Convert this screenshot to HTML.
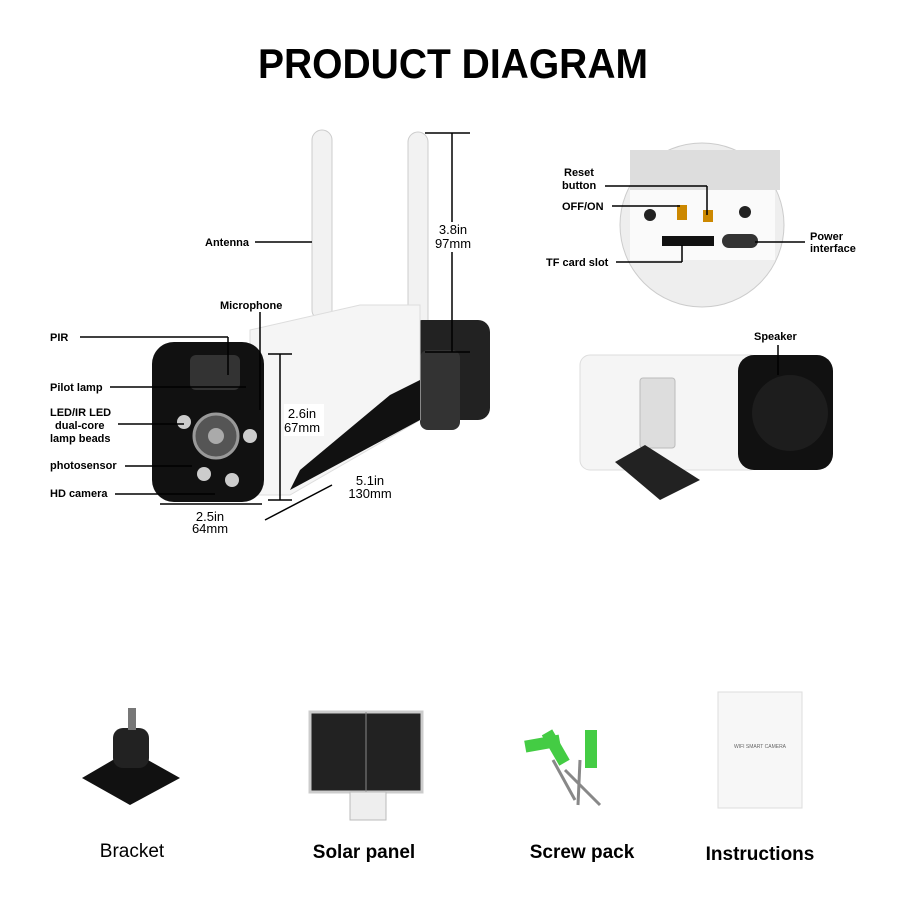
<!DOCTYPE html>
<html><head><meta charset="utf-8"><style>
body{margin:0;background:#fff;width:900px;height:900px;overflow:hidden}
svg{display:block}
text{font-family:"Liberation Sans",sans-serif}
</style></head><body>
<svg width="900" height="900" viewBox="0 0 900 900" xmlns="http://www.w3.org/2000/svg">
<text x="258" y="78" font-size="42" font-weight="bold" textLength="390" lengthAdjust="spacingAndGlyphs" fill="#000">PRODUCT DIAGRAM</text>

<!-- antennas -->
<rect x="312" y="130" width="20" height="190" rx="10" fill="#f2f2f2" stroke="#ccc"/>
<rect x="408" y="132" width="20" height="215" rx="10" fill="#f2f2f2" stroke="#ccc"/>
<!-- mount -->
<rect x="410" y="320" width="80" height="100" rx="12" fill="#222"/>
<rect x="420" y="350" width="40" height="80" rx="8" fill="#333"/>
<!-- body -->
<path d="M250 330 L360 305 L420 305 L420 420 L290 495 L250 495 Z" fill="#f5f5f5" stroke="#ddd"/>
<path d="M290 490 L420 420 L420 380 L390 395 L300 470 Z" fill="#111"/>
<!-- front -->
<rect x="152" y="342" width="112" height="160" rx="22" fill="#111"/>
<rect x="190" y="355" width="50" height="35" rx="6" fill="#333"/>
<circle cx="216" cy="436" r="22" fill="#555" stroke="#999" stroke-width="3"/>
<circle cx="216" cy="436" r="8" fill="#aaa"/>
<circle cx="184" cy="422" r="7" fill="#ccc"/><circle cx="250" cy="436" r="7" fill="#ccc"/>
<circle cx="204" cy="474" r="7" fill="#ccc"/><circle cx="232" cy="480" r="7" fill="#ccc"/>

<g stroke="#000" stroke-width="1.5" fill="none">
<line x1="255" y1="242" x2="312" y2="242"/>
<line x1="80" y1="337" x2="228" y2="337"/><line x1="228" y1="337" x2="228" y2="375"/>
<line x1="110" y1="387" x2="246" y2="387"/><line x1="260" y1="312" x2="260" y2="410"/>
<line x1="118" y1="424" x2="184" y2="424"/>
<line x1="125" y1="466" x2="192" y2="466"/>
<line x1="115" y1="494" x2="215" y2="494"/>
<line x1="425" y1="133" x2="470" y2="133"/><line x1="452" y1="133" x2="452" y2="352"/><line x1="425" y1="352" x2="470" y2="352"/>
<line x1="268" y1="354" x2="292" y2="354"/><line x1="280" y1="354" x2="280" y2="500"/><line x1="268" y1="500" x2="292" y2="500"/>
<line x1="160" y1="504" x2="262" y2="504"/>
<line x1="265" y1="520" x2="332" y2="485"/>
</g>
<rect x="432" y="222" width="42" height="30" fill="#fff"/>
<rect x="284" y="404" width="40" height="32" fill="#fff"/>
<g font-size="11" font-weight="bold">
<text x="205" y="246">Antenna</text>
<text x="220" y="309">Microphone</text>
<text x="50" y="341">PIR</text>
<text x="50" y="391">Pilot lamp</text>
<text x="50" y="416">LED/IR LED</text><text x="55" y="429">dual-core</text><text x="50" y="442">lamp beads</text>
<text x="50" y="469">photosensor</text>
<text x="50" y="497">HD camera</text>
</g>
<g font-size="13" text-anchor="middle">
<text x="453" y="234">3.8in</text><text x="453" y="248">97mm</text>
<text x="302" y="418">2.6in</text><text x="302" y="432">67mm</text>
<text x="370" y="485">5.1in</text><text x="370" y="498">130mm</text>
<text x="210" y="521">2.5in</text><text x="210" y="533">64mm</text>
</g>

<!-- circle inset -->
<circle cx="702" cy="225" r="82" fill="#eee" stroke="#ccc"/>
<rect x="630" y="190" width="145" height="70" fill="#fafafa"/>
<rect x="630" y="150" width="150" height="40" fill="#ddd"/>
<rect x="662" y="236" width="52" height="10" fill="#111"/>
<rect x="722" y="234" width="36" height="14" rx="7" fill="#333"/>
<rect x="677" y="205" width="10" height="15" fill="#c80"/><rect x="703" y="210" width="10" height="12" fill="#c80"/>
<circle cx="745" cy="212" r="6" fill="#222"/><circle cx="650" cy="215" r="6" fill="#222"/>
<g stroke="#000" stroke-width="1.5" fill="none">
<line x1="605" y1="186" x2="707" y2="186"/><line x1="707" y1="186" x2="707" y2="215"/>
<line x1="612" y1="206" x2="680" y2="206"/>
<line x1="616" y1="262" x2="682" y2="262"/><line x1="682" y1="262" x2="682" y2="245"/>
<line x1="755" y1="242" x2="805" y2="242"/>
</g>
<g font-size="11" font-weight="bold">
<text x="564" y="176">Reset</text><text x="562" y="189">button</text>
<text x="562" y="210">OFF/ON</text>
<text x="546" y="266">TF card slot</text>
<text x="810" y="240">Power</text><text x="810" y="252">interface</text>
<text x="754" y="340">Speaker</text>
</g>
<!-- speaker camera -->
<rect x="580" y="355" width="180" height="115" rx="10" fill="#f5f5f5" stroke="#ddd"/>
<rect x="738" y="355" width="95" height="115" rx="16" fill="#111"/>
<circle cx="790" cy="413" r="38" fill="#1d1d1d"/>
<rect x="640" y="378" width="35" height="70" rx="3" fill="#ddd" stroke="#bbb"/>
<path d="M615 462 L645 445 L700 480 L660 500 Z" fill="#222"/>
<line x1="778" y1="345" x2="778" y2="375" stroke="#000" stroke-width="1.5"/>

<!-- bottom items -->
<path d="M82 778 L130 750 L180 778 L130 805 Z" fill="#111"/>
<rect x="113" y="728" width="36" height="40" rx="10" fill="#222"/>
<rect x="128" y="708" width="8" height="22" fill="#777"/>
<text x="132" y="857" font-size="19" text-anchor="middle">Bracket</text>

<rect x="310" y="712" width="112" height="80" fill="#222" stroke="#ccc" stroke-width="3"/>
<line x1="366" y1="712" x2="366" y2="792" stroke="#888"/>
<rect x="350" y="792" width="36" height="28" fill="#eee" stroke="#bbb"/>
<text x="364" y="858" font-size="19" font-weight="bold" text-anchor="middle">Solar panel</text>

<g fill="#4c4">
<rect x="525" y="738" width="35" height="12" transform="rotate(-10 540 744)"/>
<rect x="550" y="730" width="12" height="35" transform="rotate(-30 556 748)"/>
<rect x="585" y="730" width="12" height="38"/>
</g>
<g stroke="#888" stroke-width="3"><line x1="553" y1="760" x2="575" y2="800"/><line x1="565" y1="770" x2="600" y2="805"/><line x1="580" y1="760" x2="578" y2="805"/></g>
<text x="582" y="858" font-size="19" font-weight="bold" text-anchor="middle">Screw pack</text>

<rect x="718" y="692" width="84" height="116" fill="#f7f7f7" stroke="#ddd"/>
<text x="760" y="748" font-size="5" text-anchor="middle" fill="#666">WIFI SMART CAMERA</text>
<text x="760" y="860" font-size="19" font-weight="bold" text-anchor="middle">Instructions</text>
</svg>
</body></html>
